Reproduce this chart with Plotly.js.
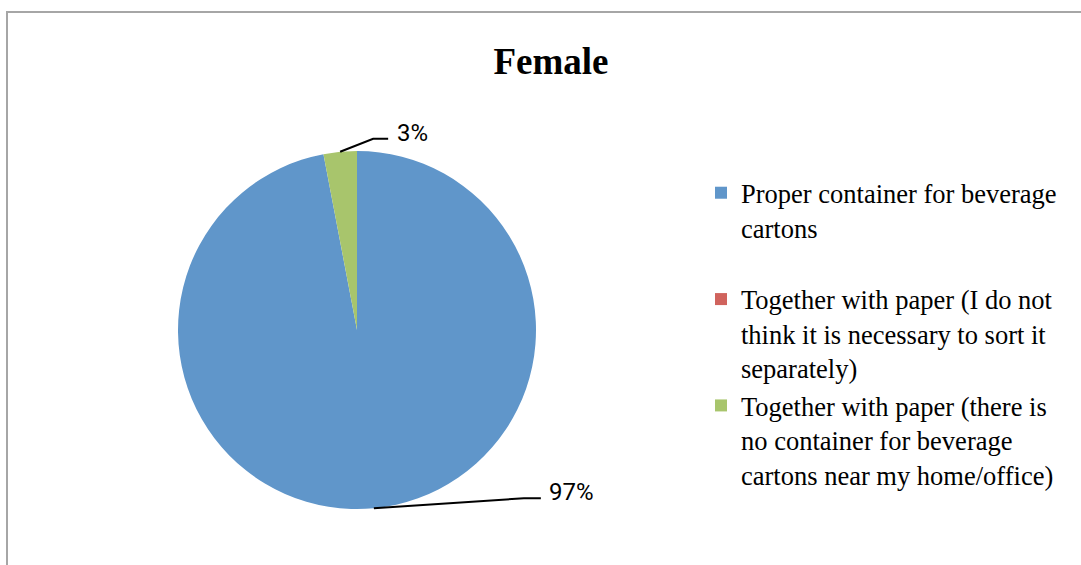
<!DOCTYPE html>
<html>
<head>
<meta charset="utf-8">
<script src="https://cdn.plot.ly/plotly-3.0.1.min.js"></script>
<style>
  html, body { margin: 0; padding: 0; background: #ffffff; overflow: hidden; }
  #chart { position: absolute; left: 0; top: 0; width: 1081px; height: 565px; }
  #frame { position: absolute; left: 6px; top: 11px; width: 2000px; height: 2000px;
           border-left: 2px solid #a6a6a6; border-top: 2px solid #a6a6a6; pointer-events: none; }
</style>
</head>
<body>
<div id="chart"></div>
<div id="frame"></div>
<script>
// ---- data ----
const chartTitle = 'Female';
const categories = [
  'Proper container for beverage<br>cartons<br>&nbsp;',
  'Together with paper (I do not<br>think it is necessary to sort it<br>separately)',
  'Together with paper (there is<br>no container for beverage<br>cartons near my home/office)'
];
const values = [97, 0, 3];
const colors = ['#6096ca', '#d0635d', '#a8c56c'];

// ---- layout / style ----
const W = 1081, H = 565;
const pie = { cx: 357, cy: 330, r: 179 };
// label leader offsets (px) per slice: elbow dx, dy, horizontal run, gap to text
const labelStyle = [
  { ex: 150, ey: -10, run: 17, gap: 6 },
  { ex: 30, ey: -12, run: 15, gap: 7 },
  { ex: 33, ey: -13, run: 15, gap: 7 }
];

const px2x = v => v / W;
const py2y = v => 1 - v / H;

const total = values.reduce((a, b) => a + b, 0);
const shapes = [];
const annotations = [];
let cum = 0;
values.forEach((v, i) => {
  const start = cum;
  cum += v;
  if (v <= 0) return;
  const mid = ((start + v / 2) / total) * 2 * Math.PI; // clockwise from 12 o'clock
  const ax = pie.cx + pie.r * Math.sin(mid);
  const ay = pie.cy - pie.r * Math.cos(mid);
  const s = labelStyle[i];
  const ex = ax + s.ex, ey = ay + s.ey;
  const hx = ex + s.run;
  shapes.push({
    type: 'path', xref: 'paper', yref: 'paper',
    path: `M ${px2x(ax)},${py2y(ay)} L ${px2x(ex)},${py2y(ey)} L ${px2x(hx)},${py2y(ey)}`,
    line: { color: '#000000', width: 2 }
  });
  annotations.push({
    xref: 'paper', yref: 'paper',
    x: px2x(hx + s.gap), y: py2y(ey - 6),
    xanchor: 'left', yanchor: 'middle', showarrow: false,
    text: Math.round(v / total * 100) + '%',
    font: { family: 'Roboto, Liberation Sans, sans-serif', size: 24, color: '#000000' }
  });
});

const trace = {
  type: 'pie',
  labels: categories,
  values: values,
  sort: false,
  direction: 'clockwise',
  rotation: 0,
  textinfo: 'none',
  hoverinfo: 'label+percent',
  marker: { colors: colors, line: { color: '#ffffff', width: 0 } },
  domain: {
    x: [px2x(pie.cx - pie.r), px2x(pie.cx + pie.r)],
    y: [py2y(pie.cy + pie.r), py2y(pie.cy - pie.r)]
  },
  showlegend: true
};

const layout = {
  width: W, height: H,
  margin: { l: 0, r: 0, t: 0, b: 0 },
  paper_bgcolor: '#ffffff',
  title: {
    text: '<b>' + chartTitle + '</b>',
    font: { family: 'Liberation Serif, Times New Roman, serif', size: 37, color: '#000000' },
    x: 551 / W, xref: 'container', xanchor: 'center',
    y: 1 - 61 / H, yref: 'container', yanchor: 'middle'
  },
  showlegend: true,
  legend: {
    x: 701 / W, xanchor: 'left',
    y: 1 - 169 / H, yanchor: 'top',
    valign: 'top',
    font: { family: 'Liberation Serif, Times New Roman, serif', size: 26.5, color: '#000000' },
    bgcolor: 'rgba(0,0,0,0)',
    itemwidth: 30
  },
  shapes: shapes,
  annotations: annotations
};

Plotly.newPlot('chart', [trace], layout, { displayModeBar: false, staticPlot: true });
</script>
</body>
</html>
